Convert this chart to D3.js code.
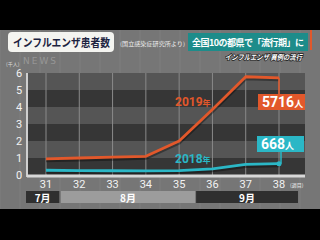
<!DOCTYPE html>
<html>
<head>
<meta charset="utf-8">
<script src="https://cdn.jsdelivr.net/npm/d3@7"></script>
<style>
  html, body { margin: 0; padding: 0; background: #000; }
  svg { display: block; font-family: "Noto Sans CJK JP", "Noto Sans", sans-serif; }
</style>
</head>
<body>
<svg id="chart" width="320" height="240"></svg>
<script>
// weeks of the year
var weeks = [31, 32, 33, 34, 35, 36, 37, 38];
// patients (thousand)
var y2019 = [0.95, 1.0, 1.05, 1.1, 2.0, 3.85, 5.78, 5.716];
var y2018 = [0.28, 0.26, 0.25, 0.24, 0.26, 0.36, 0.62, 0.668];
var yTicks = [0, 1, 2, 3, 4, 5, 6];
var months = [
  {name: "7月", from: 30.4, to: 31.4},
  {name: "8月", from: 31.45, to: 35.48},
  {name: "9月", from: 35.51, to: 38.57}
];

var svg = d3.select("#chart");
var orange = "#e2582b", teal = "#2bb7c6";

var x = d3.scaleLinear().domain([31, 38]).range([46, 279]);
var y = d3.scaleLinear().domain([0, 6]).range([175, 73]);

// grey studio background
svg.append("rect").attr("x", 0).attr("y", 30).attr("width", 320).attr("height", 179).attr("fill", "#767676");
var bg = svg.append("g").attr("opacity", 0.25);
d3.range(0, 320, 20).forEach(function(v){
  bg.append("line").attr("x1", v).attr("x2", v).attr("y1", 30).attr("y2", 209).attr("stroke", "#999").attr("stroke-width", 1);
});

// plot area bands
var plot = svg.append("g");
yTicks.slice(0, 6).forEach(function(t){
  plot.append("rect")
    .attr("x", 27).attr("y", y(t + 1))
    .attr("width", 278).attr("height", y(t) - y(t + 1))
    .attr("fill", t % 2 === 0 ? "#363636" : "#555555");
});

// vertical gridlines
plot.selectAll("line.grid").data(weeks).enter().append("line")
  .attr("class", "grid")
  .attr("x1", function(d){ return x(d); })
  .attr("x2", function(d){ return x(d); })
  .attr("y1", y(6)).attr("y2", y(0))
  .attr("stroke", "#8a8a8a").attr("stroke-width", 1);

// axes lines
plot.append("line").attr("x1", 27).attr("x2", 27).attr("y1", y(6)).attr("y2", y(0) + 2)
  .attr("stroke", "#cfcfcf").attr("stroke-width", 2);
plot.append("line").attr("x1", 27).attr("x2", 305).attr("y1", y(0) + 1).attr("y2", y(0) + 1)
  .attr("stroke", "#d8d8d8").attr("stroke-width", 3);

// y tick labels
svg.selectAll("text.ytick").data(yTicks).enter().append("text")
  .attr("class", "ytick")
  .attr("x", 19).attr("y", function(d){ return y(d) + 4; })
  .attr("text-anchor", "middle").attr("fill", "#f2f2f2")
  .attr("font-size", 11).attr("font-family", "Roboto, sans-serif")
  .text(function(d){ return d; });

// x tick labels
svg.selectAll("text.xtick").data(weeks).enter().append("text")
  .attr("class", "xtick")
  .attr("x", function(d){ return x(d); }).attr("y", 188)
  .attr("text-anchor", "middle").attr("fill", "#f2f2f2")
  .attr("font-size", 11).attr("font-family", "Roboto, sans-serif")
  .text(function(d){ return d; });
svg.append("text").attr("x", 290).attr("y", 187).attr("fill", "#eee").attr("font-size", 5).text("(週目)");

// month bar
var mb = svg.selectAll("g.month").data(months).enter().append("g").attr("class", "month");
mb.append("rect")
  .attr("x", function(d){ return x(d.from); })
  .attr("y", 191)
  .attr("width", function(d){ return x(d.to) - x(d.from); })
  .attr("height", 12)
  .attr("fill", function(d, i){ return i === 1 ? "#9c9c9c" : "#2f2f2f"; });
mb.append("text")
  .attr("x", function(d){ return (x(d.from) + x(d.to)) / 2; })
  .attr("y", 201.5)
  .attr("text-anchor", "middle").attr("fill", "#fff")
  .attr("font-size", 10).attr("font-weight", "bold")
  .text(function(d){ return d.name; });

// lines
var line = d3.line().x(function(d, i){ return x(weeks[i]); }).y(function(d){ return y(d); });
[[y2019, orange], [y2018, teal]].forEach(function(s){
  svg.append("path").attr("d", line(s[0])).attr("fill", "none")
    .attr("stroke", "#000").attr("stroke-opacity", 0.35).attr("stroke-width", 4)
    .attr("transform", "translate(0,1.5)");
  svg.append("path").attr("d", line(s[0])).attr("fill", "none")
    .attr("stroke", s[1]).attr("stroke-width", 2.8).attr("stroke-linejoin", "round");
});
svg.append("circle").attr("cx", x(38)).attr("cy", y(y2018[7])).attr("r", 2.5).attr("fill", teal);

// series labels
svg.append("text").attr("x", 175).attr("y", 106).attr("fill", orange)
  .attr("font-size", 12).attr("font-family", "Roboto, sans-serif").attr("font-weight", "bold").text("2019")
  .append("tspan").attr("font-size", 8).attr("font-family", "Noto Sans CJK JP").text("年");
svg.append("text").attr("x", 175).attr("y", 163).attr("fill", teal)
  .attr("font-size", 12).attr("font-family", "Roboto, sans-serif").attr("font-weight", "bold").text("2018")
  .append("tspan").attr("font-size", 8).attr("font-family", "Noto Sans CJK JP").text("年");

// callouts
function callout(val, color, bx, by, px, py, str){
  svg.append("line").attr("x1", px).attr("x2", px).attr("y1", py).attr("y2", by)
    .attr("stroke", color).attr("stroke-width", 1.5);
  svg.append("rect").attr("x", bx).attr("y", by).attr("width", 47).attr("height", 16).attr("fill", color);
  var t = svg.append("text").attr("x", bx + 4).attr("y", by + 13).attr("fill", "#fff")
    .attr("font-size", 14).attr("font-weight", "bold").attr("font-family", "Roboto, sans-serif").text(str);
  t.append("tspan").attr("font-size", 9).attr("font-family", "Noto Sans CJK JP").text("人");
}
callout(y2019[7], orange, 258, 94, x(38), y(y2019[7]), "5716");
callout(y2018[7], teal, 257, 136, x(38) + 2, y(y2018[7]), "668");

// header
svg.append("rect").attr("x", 8).attr("y", 32).attr("width", 106).attr("height", 20).attr("rx", 4).attr("fill", "#f4f4f0");
svg.append("text").attr("x", 13).attr("y", 46.5).attr("fill", "#1c2340")
  .attr("font-size", 11).attr("font-weight", "bold")
  .attr("textLength", 97).attr("lengthAdjust", "spacingAndGlyphs")
  .text("インフルエンザ患者数");
svg.append("text").attr("x", 120).attr("y", 46).attr("fill", "#f0f0f0")
  .attr("font-size", 5.5).attr("textLength", 65).attr("lengthAdjust", "spacingAndGlyphs")
  .text("(国立感染症研究所より)");
svg.append("rect").attr("x", 188).attr("y", 33).attr("width", 120).attr("height", 18).attr("fill", "#1d8c8a");
svg.append("text").attr("x", 192).attr("y", 46).attr("fill", "#fff")
  .attr("font-size", 9).attr("font-weight", "bold")
  .attr("textLength", 112).attr("lengthAdjust", "spacing")
  .text("全国10の都県で「流行期」に");
svg.append("text").attr("x", 225).attr("y", 60).attr("fill", "#fff")
  .attr("font-size", 7.5).attr("font-style", "italic").attr("font-weight", "bold")
  .attr("stroke", "#1a1a1a").attr("stroke-width", 1.5).attr("paint-order", "stroke")
  .attr("textLength", 77).attr("lengthAdjust", "spacingAndGlyphs")
  .text("インフルエンザ 異例の流行");
svg.append("rect").attr("x", 310).attr("y", 30).attr("width", 2).attr("height", 20).attr("fill", orange);

// watermark and unit
svg.append("text").attr("x", 23).attr("y", 64).attr("fill", "#fff").attr("fill-opacity", 0.25)
  .attr("font-size", 9).attr("font-family", "DejaVu Sans").attr("letter-spacing", 2).text("NEWS");
svg.append("text").attr("x", 6).attr("y", 66).attr("fill", "#ddd").attr("font-size", 5).text("(千人)");
</script>
</body>
</html>
